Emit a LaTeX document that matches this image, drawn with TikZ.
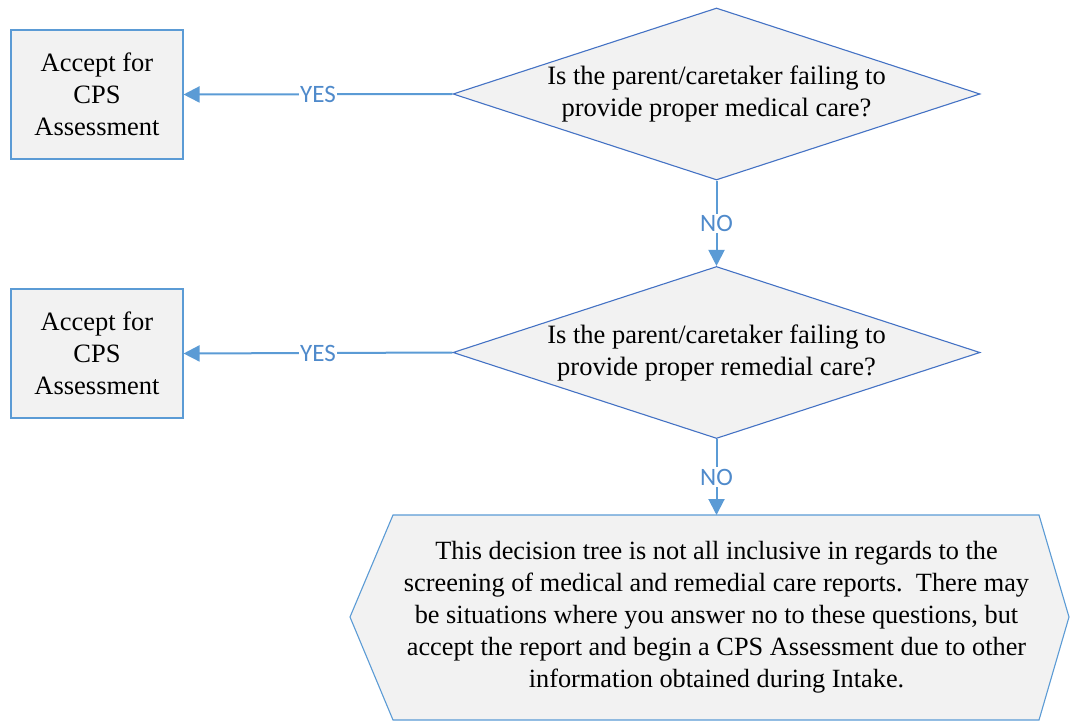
\documentclass[tikz,border=0pt]{standalone}
\usepackage{fontspec}
\setmainfont{Liberation Serif}
\newfontfamily\lblfont{Carlito}
\usetikzlibrary{shapes.geometric,arrows.meta}
\definecolor{boxblue}{HTML}{5B9BD5}
\definecolor{dblue}{HTML}{4472C4}
\definecolor{lblblue}{HTML}{4F8ACB}
\definecolor{shapefill}{HTML}{F2F2F2}
\tikzset{
  acceptbox/.style={draw=boxblue, line width=1.1pt, fill=shapefill, minimum width=172pt, minimum height=129pt, inner sep=0pt, align=center, font=\fontsize{26.5}{32}\selectfont},
  question/.style={diamond, draw=dblue, line width=1.1pt, fill=shapefill, aspect=3.06, minimum width=527pt, minimum height=172pt, inner sep=0pt, align=center, font=\fontsize{26.5}{32}\selectfont},
  conn/.style={draw=boxblue, line width=2pt, -{Triangle[length=16pt,width=16pt]}},
  lbl/.style={fill=white, inner sep=1.5pt, text=lblblue, font=\lblfont\fontsize{25}{28}\selectfont},
  noteshape/.style={draw=boxblue, line width=1.1pt, fill=shapefill},
  notetext/.style={align=center, font=\fontsize{26.3}{32}\selectfont, inner sep=0pt}
}
\begin{document}
\begin{tikzpicture}[x=1pt,y=-1pt]
\useasboundingbox (0,0) rectangle (1070,722);
\node[acceptbox] (a1) at (97,94.5) {Accept for\\CPS\\Assessment};
\node[acceptbox] (a2) at (97,353.5) {Accept for\\CPS\\Assessment};
\node[question] (q1) at (716.5,94) {Is the parent/caretaker failing to\\provide proper medical care?};
\node[question] (q2) at (716.5,352.5) {Is the parent/caretaker failing to\\provide proper remedial care?};
\coordinate (hl) at (350,617);
\coordinate (htl) at (393,515);
\coordinate (htop) at (716.5,515);
\coordinate (htr) at (1039,515);
\coordinate (hr) at (1069,617);
\coordinate (hbr) at (1039,720);
\coordinate (hbl) at (393,720);
\draw[noteshape] (hl) -- (htl) -- (htr) -- (hr) -- (hbr) -- (hbl) -- cycle;
\node[notetext] (note) at (716.5,617) {This decision tree is not all inclusive in regards to the\\screening of medical and remedial care reports.\ \ There may\\be situations where you answer no to these questions, but\\accept the report and begin a CPS Assessment due to other\\information obtained during Intake.};
\draw[conn] (q1.west) -- node[lbl] {YES} (a1.east);
\draw[conn] (q2.west) -- node[lbl] {YES} (a2.east);
\draw[conn] (q1.south) -- node[lbl] {NO} (q2.north);
\draw[conn] (q2.south) -- node[lbl] {NO} (htop);
\end{tikzpicture}
\end{document}
